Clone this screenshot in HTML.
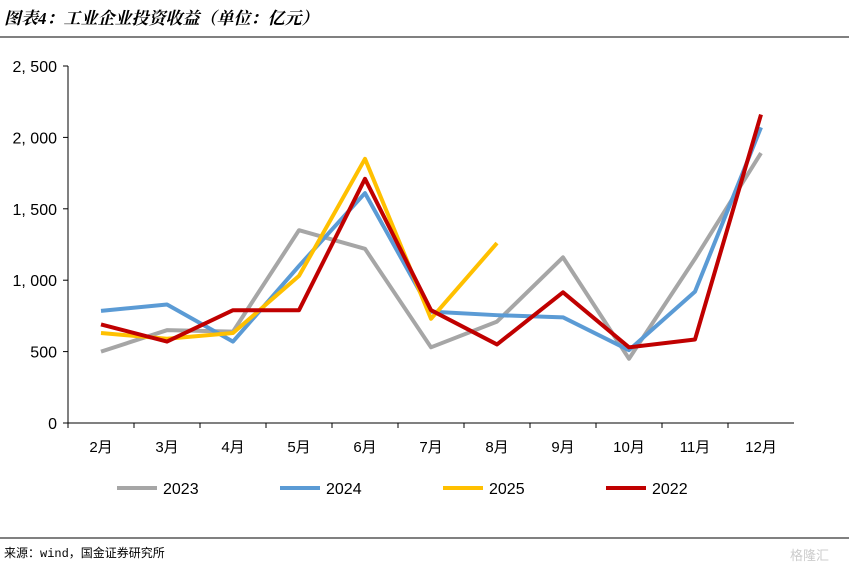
<!DOCTYPE html>
<html><head><meta charset="utf-8"><style>
body{margin:0;background:#fff;font-family:"Liberation Sans","Noto Sans CJK SC",sans-serif;}
svg{display:block}
</style></head><body>
<svg width="849" height="572" xmlns="http://www.w3.org/2000/svg" id="chart">
<text x="4" y="24" font-size="17" font-weight="bold" font-style="italic" font-family="'Liberation Serif','Noto Serif CJK SC',serif">图表4：工业企业投资收益（单位：亿元）</text>
<line x1="0" y1="37" x2="849" y2="37" stroke="#000" stroke-width="1"/>
<g id="axes"></g>
<g id="series"></g>
<g id="legend"></g>
<line x1="0" y1="538" x2="849" y2="538" stroke="#000" stroke-width="1"/>
<text x="4" y="557" font-size="12" font-family="'Liberation Mono','Noto Sans CJK SC',monospace">来源：wind，国金证券研究所</text>
<text x="790" y="560" font-size="13" fill="#ccc">格隆汇</text>
</svg>
<script>
const categories=["2月","3月","4月","5月","6月","7月","8月","9月","10月","11月","12月"];
const yTicks=[0,500,1000,1500,2000,2500];
const yTickLabels=["0","500","1, 000","1, 500","2, 000","2, 500"];
const seriesNames=["2023","2024","2025","2022"];
const s2023=[500,650,640,1350,1220,530,710,1160,450,1150,1890];
const s2024=[785,830,570,1100,1610,780,755,740,510,920,2070];
const s2025=[630,590,630,1030,1850,730,1260];
const s2022=[690,570,790,790,1710,790,550,915,530,585,2160];
const colors=["#a6a6a6","#5b9bd5","#ffc000","#c00000"];
const NS="http://www.w3.org/2000/svg";
const L=68,R=794,T=66,B=423,MAX=2500;
const band=(R-L)/categories.length;
const xS=i=>L+band*(i+0.5);
const yS=v=>B-(v/MAX)*(B-T);
function mk(t,a,p){const e=document.createElementNS(NS,t);for(const k in a)e.setAttribute(k,a[k]);p.appendChild(e);return e;}
const ax=document.getElementById('axes');
let yl=mk('line',{x1:L,y1:T,x2:L,y2:B,stroke:'#000'},ax);


let xl=mk('line',{x1:L,y1:B,x2:R,y2:B,stroke:'#000'},ax);


yTicks.forEach((v,i)=>{
 const t=mk('line',{x1:L-5,y1:yS(v),x2:L,y2:yS(v),stroke:'#000'},ax);
 
 
 const tx=mk('text',{x:L-11,y:yS(v)+6,'text-anchor':'end','font-size':16},ax);
 tx.textContent=yTickLabels[i];
 
 
});
categories.forEach((c,i)=>{
 const t=mk('line',{x1:L+band*i,y1:B,x2:L+band*i,y2:B+5,stroke:'#000'},ax);
 
 
 const tx=mk('text',{x:xS(i),y:B+29,'text-anchor':'middle','font-size':15},ax);
 tx.textContent=c;
 
 
});
const sg=document.getElementById('series');
[s2023,s2024,s2025,s2022].forEach((d,k)=>{
 const p=mk('polyline',{points:d.map((v,i)=>xS(i)+','+yS(v)).join(' '),fill:'none',stroke:colors[k],'stroke-width':4,'stroke-linejoin':'round'},sg);
 
 
});
const lg=document.getElementById('legend');
seriesNames.forEach((n,k)=>{
 const x0=117+163*k;
 const l=mk('line',{x1:x0,y1:488,x2:x0+40,y2:488,stroke:colors[k],'stroke-width':4},lg);
 
 
 const t=mk('text',{x:x0+46,y:494,'font-size':16},lg);
 t.textContent=n;
 
 
});
</script>
</body></html>
